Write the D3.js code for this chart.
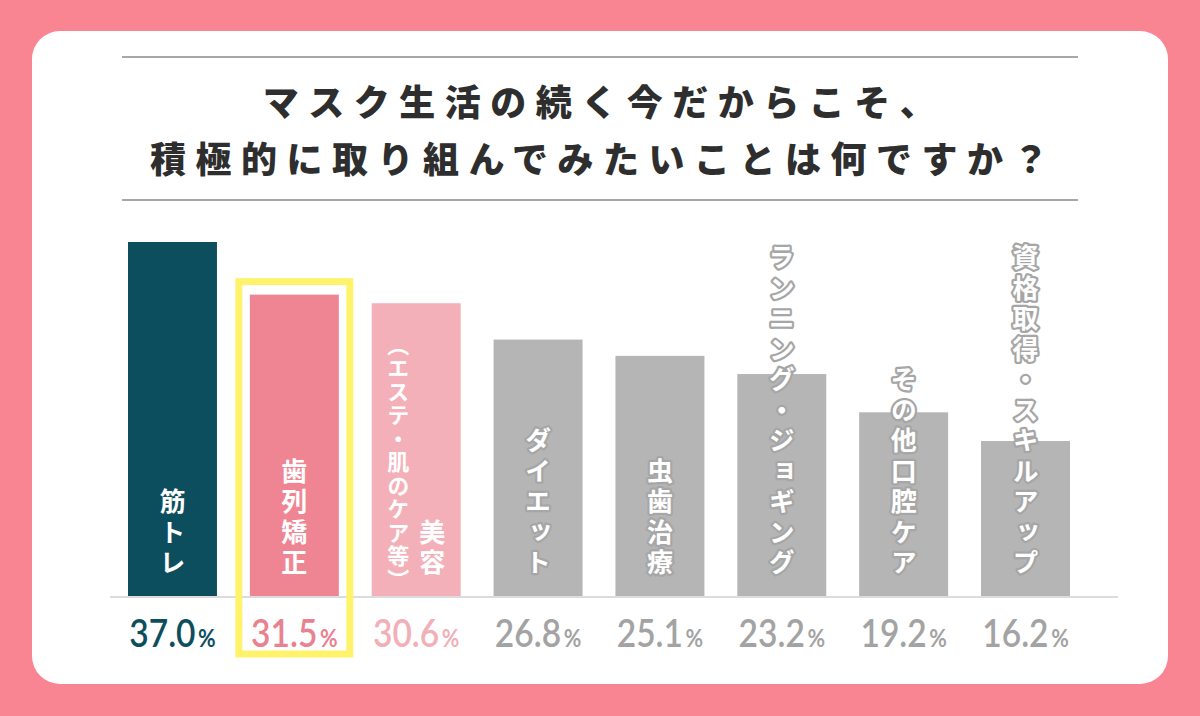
<!DOCTYPE html>
<meta charset="utf-8" />
<script src="https://d3js.org/d3.v7.min.js"></script>
<style>
  body { margin: 0; background: #fa8592; }
  text { font-family: "Noto Sans CJK JP", "Noto Sans", sans-serif; }
</style>
<div id="chart"></div>
<script>
  // data
  const categories = ["筋トレ", "歯列矯正", "美容", "ダイエット", "虫歯治療",
    "ランニング・ジョギング", "その他口腔ケア", "資格取得・スキルアップ"];
  // text columns drawn inside each bar (right-most column last)
  const barLabels = [["筋トレ"], ["歯列矯正"], ["（エステ・肌のケア等）", "美容"], ["ダイエット"],
    ["虫歯治療"], ["ランニング・ジョギング"], ["その他口腔ケア"], ["資格取得・スキルアップ"]];
  const values = [37.0, 31.5, 30.6, 26.8, 25.1, 23.2, 19.2, 16.2];
  const titleLines = ["マスク生活の続く今だからこそ、", "積極的に取り組んでみたいことは何ですか？"];
  const highlighted = "歯列矯正";

  const barColors = ["#0d4e5e", "#ef8593", "#f4b0b9", "#b5b5b5", "#b5b5b5", "#b5b5b5", "#b5b5b5", "#b5b5b5"];
  const numColors = ["#0d4e5e", "#e9818f", "#f2afb8", "#a3a3a3", "#a3a3a3", "#a3a3a3", "#a3a3a3", "#a3a3a3"];
  const strokeColors = ["#0d4e5e", "#ef8593", "#f4b0b9", "#a6a6a6", "#a6a6a6", "#a6a6a6", "#a6a6a6", "#a6a6a6"];

  const width = 1200, height = 716;
  const baseY = 596;

  const svg = d3.select("#chart").append("svg")
    .attr("width", width).attr("height", height);

  // pink frame and white card
  svg.append("rect").attr("width", width).attr("height", height).attr("fill", "#fa8592");
  svg.append("rect")
    .attr("x", 32).attr("y", 31).attr("width", 1136).attr("height", 653)
    .attr("rx", 28).attr("fill", "#ffffff");

  // title with rules
  svg.append("line").attr("x1", 122).attr("x2", 1078).attr("y1", 57).attr("y2", 57)
    .attr("stroke", "#8a8a8a").attr("stroke-width", 1.5);
  svg.append("line").attr("x1", 122).attr("x2", 1078).attr("y1", 200).attr("y2", 200)
    .attr("stroke", "#8a8a8a").attr("stroke-width", 1.5);
  svg.selectAll(".title").data(titleLines).join("text")
    .attr("class", "title")
    .attr("x", 604)
    .attr("y", (d, i) => 116 + i * 57)
    .attr("text-anchor", "middle")
    .style("font-size", "36px")
    .style("font-weight", "900")
    .style("letter-spacing", "9.5px")
    .style("fill", "#2e2e2e")
    .text(d => d);

  // scales
  const x = d3.scaleBand().domain(categories).range([128, 1070]).paddingInner(0.27);
  const y = d3.scaleLinear().domain([0, d3.max(values)]).range([baseY, 242]);

  // bars
  svg.append("g").selectAll("rect").data(categories).join("rect")
    .attr("x", d => x(d))
    .attr("y", (d, i) => y(values[i]))
    .attr("width", x.bandwidth())
    .attr("height", (d, i) => baseY - y(values[i]))
    .attr("fill", (d, i) => barColors[i]);

  // base line
  svg.append("line").attr("x1", 110).attr("x2", 1118).attr("y1", baseY + 1).attr("y2", baseY + 1)
    .attr("stroke", "#dcdcdc").attr("stroke-width", 2);

  // vertical labels inside bars
  const labelG = svg.append("g");
  categories.forEach(function (c, i) {
    const cols = barLabels[i];
    const cx = x(c) + x.bandwidth() / 2;
    cols.forEach(function (t, j) {
      const multi = cols.length > 1;
      const small = multi && j === 0;
      const colX = multi ? cx + (j === 0 ? -18 : 16) : cx;
      labelG.append("text")
        .attr("x", colX)
        .attr("y", small ? 592 : 580)
        .attr("text-anchor", "end")
        .style("writing-mode", "vertical-rl")
        .style("font-size", small ? "22px" : "26px")
        .style("font-weight", "700")
        .style("letter-spacing", small ? "1.5px" : "4.5px")
        .style("fill", "#ffffff")
        .style("stroke", strokeColors[i])
        .style("stroke-width", i > 2 ? 4.5 : 0)
        .style("stroke-linejoin", "round")
        .style("paint-order", "stroke")
        .text(t);
    });
  });

  // highlight box
  const hi = categories.indexOf(highlighted);
  svg.append("rect")
    .attr("x", x(highlighted) - 11)
    .attr("y", y(values[hi]) - 13)
    .attr("width", x.bandwidth() + 22)
    .attr("height", 654 - (y(values[hi]) - 13))
    .attr("fill", "none")
    .attr("stroke", "#fff36c")
    .attr("stroke-width", 7);

  // percentage values
  const pct = svg.append("g").selectAll("text").data(categories).join("text")
    .attr("transform", d => `translate(${x(d) + x.bandwidth() / 2},647) scale(0.86,1)`)
    .attr("text-anchor", "middle")
    .style("font-family", "Lato, 'Noto Sans', sans-serif")
    .style("font-weight", "600")
    .style("fill", (d, i) => numColors[i]);
  pct.append("tspan").style("font-size", "39px").text((d, i) => values[i].toFixed(1));
  pct.append("tspan").attr("dx", 3).style("font-size", "25px").style("font-weight", "700").text("%");
</script>
